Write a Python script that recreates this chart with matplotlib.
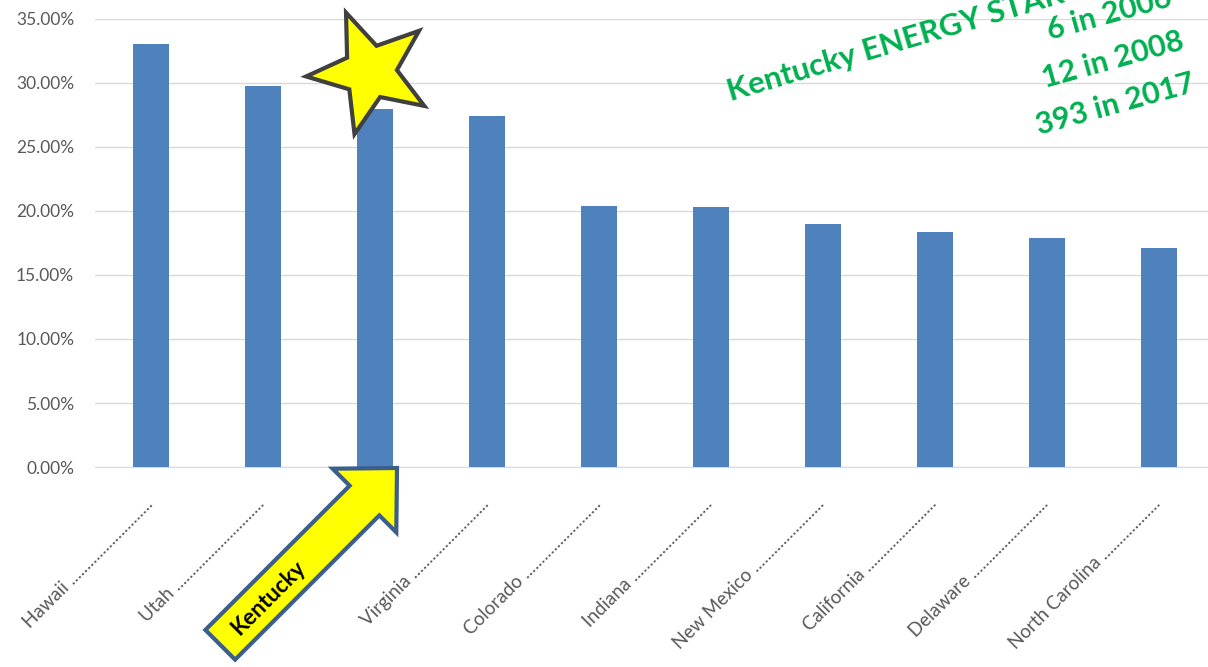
import matplotlib.pyplot as plt
import numpy as np
from matplotlib.patches import Polygon
from matplotlib.transforms import ScaledTranslation

plt.rcParams["font.family"] = ["Lato", "DejaVu Sans"]

# ========== 数据 ==========
states = ['Hawaii', 'Utah', 'Kentucky', 'Virginia', 'Colorado', 'Indiana',
          'New Mexico', 'California', 'Delaware', 'North Carolina']
share = [0.3305, 0.2977, 0.2797, 0.2742, 0.2039, 0.2030,
         0.1898, 0.1836, 0.1790, 0.1711]
yticks = [0.0, 0.05, 0.10, 0.15, 0.20, 0.25, 0.30, 0.35]
note_title = "Kentucky ENERGY STAR"
note_lines = ["6 in 2006", "12 in 2008", "393 in 2017"]

bar_color = "#4F81BD"
grid_color = "#D9D9D9"
label_color = "#595959"
green = "#00B050"

W, H = 1208, 667
fig = plt.figure(figsize=(W / 100, H / 100), dpi=100)
ax = fig.add_axes([95 / W, (H - 467) / H, 1120 / W, 448 / H])


def px(x, y):
    # 图像像素坐标 -> figure 比例坐标
    return (x / W, 1 - y / H)


x = np.arange(len(states))
ax.bar(x, share, width=0.32, color=bar_color, zorder=3)

ax.set_xlim(-0.5, len(states) - 0.5)
ax.set_ylim(0, 0.35)
ax.set_yticks(yticks)
ax.set_yticklabels([f'{v:.2%}' for v in yticks], color=label_color, fontsize=12.5)
ax.grid(axis='y', color=grid_color, linewidth=1, zorder=0)
for s in ['top', 'right', 'left']:
    ax.spines[s].set_visible(False)
ax.spines['bottom'].set_color(grid_color)
ax.tick_params(axis='both', length=0)
ax.tick_params(axis='y', pad=15)

# 带点引导线的类别标签
labels = [s + ' ' + '.' * (33 - len(s) - 1) for s in states]
ax.set_xticks(x)
ax.set_xticklabels(labels, rotation=45, ha='right', va='baseline',
                   rotation_mode='anchor', color=label_color, fontsize=13.5)
ax.tick_params(axis='x', pad=27)
for lab in ax.get_xticklabels():
    lab.set_transform(lab.get_transform() + ScaledTranslation(2 / 72, 0, fig.dpi_scale_trans))

# ========== 黄色星星 ==========
cx, cy, r_out, r_in = 370, 72, 64, 27
ang0 = np.deg2rad(112)
pts = []
for k in range(10):
    r = r_out if k % 2 == 0 else r_in
    a = ang0 + k * np.pi / 5
    pts.append(px(cx + r * np.cos(a), cy - r * np.sin(a)))
fig.patches.append(Polygon(pts, closed=True, facecolor='#FFFF00', edgecolor='#404040',
                           linewidth=3, transform=fig.transFigure, zorder=5))

# ========== 黄色箭头 ==========
tip = np.array([397, 468])
local = [(0, 0), (-46, 45), (-46, 21), (-250, 21), (-250, -21), (-46, -21), (-46, -45)]
th = np.deg2rad(45)
arrow_pts = []
for u, v in local:
    dx = u * np.cos(th) - v * np.sin(th)
    dy = u * np.sin(th) + v * np.cos(th)
    arrow_pts.append(px(tip[0] + dx, tip[1] - dy))
fig.patches.append(Polygon(arrow_pts, closed=True, facecolor='#FFFF00', edgecolor='#3B5E8C',
                           linewidth=3, transform=fig.transFigure, zorder=5))
fig.text(*px(268, 598), "Kentucky", rotation=45, ha='center', va='center',
         rotation_mode='anchor', fontsize=16, fontweight='bold', color='black', zorder=6)

# ========== 绿色注释 ==========
fig.text(*px(731, 101), note_title, rotation=16.5, ha='left', va='baseline',
         rotation_mode='anchor', fontsize=22.5, fontweight='bold', color=green)
rot = 15.5
ex, ey = 1197, 91
perp = np.array([np.sin(np.deg2rad(rot)), np.cos(np.deg2rad(rot))])
for i, line in enumerate(reversed(note_lines)):
    p = np.array([ex, ey]) - i * 44 * perp
    fig.text(*px(p[0], p[1]), line, rotation=rot, ha='right', va='baseline',
             rotation_mode='anchor', fontsize=22, fontweight='bold', color=green)

plt.savefig("out.png", dpi=100)
